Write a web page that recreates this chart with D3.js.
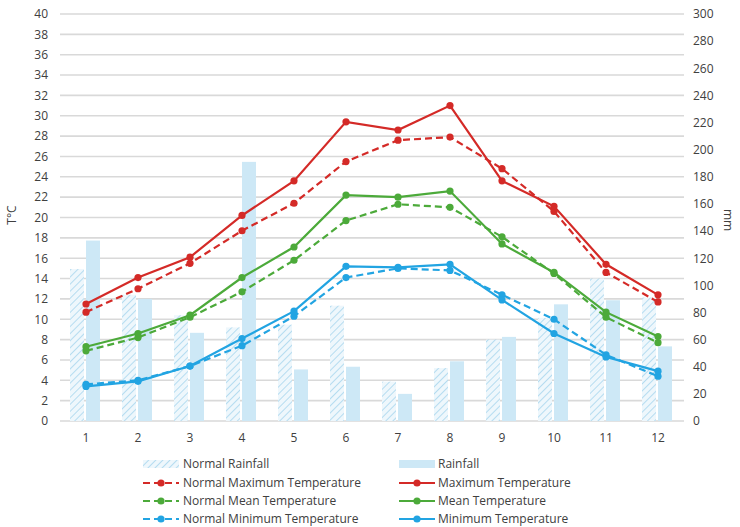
<!DOCTYPE html>
<html><head><meta charset="utf-8">
<script src="https://cdn.jsdelivr.net/npm/d3@7"></script>
<style>body{margin:0;background:#fff}svg{display:block}text{font-family:"Open Sans",sans-serif}</style>
</head><body><svg id="c" width="740" height="527"></svg>
<script>
const months = [1,2,3,4,5,6,7,8,9,10,11,12];
const normalRainfall = [112,93,78,69,71,85,29,39,60,76,105,91];
const rainfall = [133,90,65,191,38,40,20,44,62,86,89,55];
const normalMaxTemp = [10.7,13.0,15.5,18.7,21.4,25.5,27.6,27.9,24.8,20.6,14.6,11.7];
const maxTemp = [11.5,14.1,16.1,20.2,23.6,29.4,28.6,31.0,23.6,21.1,15.4,12.4];
const normalMeanTemp = [6.9,8.2,10.2,12.7,15.8,19.7,21.3,21.0,18.1,14.5,10.2,7.7];
const meanTemp = [7.3,8.6,10.4,14.1,17.1,22.2,22.0,22.6,17.4,14.6,10.7,8.3];
const normalMinTemp = [3.6,4.0,5.4,7.4,10.3,14.1,15.0,14.8,12.4,10.0,6.5,4.4];
const minTemp = [3.4,3.9,5.4,8.1,10.8,15.2,15.1,15.4,11.9,8.6,6.3,4.9];
const tempTicks = d3.range(0,41,2);
const mmTicks = d3.range(0,301,20);

const svg = d3.select("#c");
const L=60, R=684, T=14, B=421;
const x = d3.scaleBand().domain(months).range([L,R]).paddingInner(0).paddingOuter(0);
const yT = d3.scaleLinear().domain([0,40]).range([B,T]);
const yM = d3.scaleLinear().domain([0,300]).range([B,T]);

const defs = svg.append("defs");
const pat = defs.append("pattern").attr("id","hatch").attr("patternUnits","userSpaceOnUse")
  .attr("width",5).attr("height",5).attr("patternTransform","rotate(45)");
pat.append("rect").attr("width",5).attr("height",5).attr("fill","#eef7fc");
pat.append("line").attr("x1",0).attr("y1",0).attr("x2",0).attr("y2",5).attr("stroke","#b5dcf0").attr("stroke-width",2);

// grid
svg.append("g").selectAll("line").data(tempTicks).join("line")
  .attr("x1",L).attr("x2",R).attr("y1",d=>yT(d)).attr("y2",d=>yT(d))
  .attr("stroke","#d9d9d9").attr("stroke-width",1.6);

// left axis
const la = svg.append("g").attr("transform",`translate(${L},0)`).call(d3.axisLeft(yT).tickValues(tempTicks).tickSize(0).tickPadding(12));
la.select(".domain").remove();
la.selectAll("text").attr("fill","#404040").style("font-size","12px");
const ra = svg.append("g").attr("transform",`translate(${R},0)`).call(d3.axisRight(yM).tickValues(mmTicks).tickSize(0).tickPadding(9));
ra.select(".domain").remove();
ra.selectAll("text").attr("fill","#404040").style("font-size","12px");
const ba = svg.append("g").attr("transform",`translate(0,${B})`).call(d3.axisBottom(x).tickSize(0).tickPadding(12));
ba.select(".domain").remove();
ba.selectAll("text").attr("fill","#404040").style("font-size","12px");

svg.append("text").attr("transform","translate(16,215) rotate(-90)").attr("text-anchor","middle")
  .attr("fill","#404040").style("font-size","12px").text("T°C");
svg.append("text").attr("transform","translate(724,220) rotate(90)").attr("text-anchor","middle")
  .attr("fill","#404040").style("font-size","12px").text("mm");

// bars
const bw = 14, gap = 2;
const cx = m => x(m) + x.bandwidth()/2 - 1;
svg.append("g").selectAll("rect").data(months).join("rect")
  .attr("x",(m)=>cx(m)-gap/2-bw).attr("width",bw)
  .attr("y",(m,i)=>yM(normalRainfall[i])).attr("height",(m,i)=>B-yM(normalRainfall[i]))
  .attr("fill","url(#hatch)");
svg.append("g").selectAll("rect").data(months).join("rect")
  .attr("x",(m)=>cx(m)+gap/2).attr("width",bw)
  .attr("y",(m,i)=>yM(rainfall[i])).attr("height",(m,i)=>B-yM(rainfall[i]))
  .attr("fill","#cde8f6");

const px = m => x(m) + x.bandwidth()/2;
const series = [
  {name:"Normal Maximum Temperature", data:normalMaxTemp, color:"#d42a27", dash:true},
  {name:"Maximum Temperature", data:maxTemp, color:"#d42a27", dash:false},
  {name:"Normal Mean Temperature", data:normalMeanTemp, color:"#4caa3a", dash:true},
  {name:"Mean Temperature", data:meanTemp, color:"#4caa3a", dash:false},
  {name:"Normal Minimum Temperature", data:normalMinTemp, color:"#22a4e2", dash:true},
  {name:"Minimum Temperature", data:minTemp, color:"#22a4e2", dash:false}
];
const line = d3.line().x((d,i)=>px(months[i])).y(d=>yT(d));
series.forEach(s=>{
  const g = svg.append("g");
  g.append("path").attr("d",line(s.data)).attr("fill","none").attr("stroke",s.color)
    .attr("stroke-width",2.2).attr("stroke-dasharray",s.dash?"7,4":null);
  g.selectAll("circle").data(s.data).join("circle")
    .attr("cx",(d,i)=>px(months[i])).attr("cy",d=>yT(d)).attr("r",3.6).attr("fill",s.color);
});

// legend
const lg = svg.append("g");
const rowsY = [464,483,501,519];
const colX = [143,399];
function legText(xp,yp,t){lg.append("text").attr("x",xp).attr("y",yp+4).attr("fill","#404040").style("font-size","12px").text(t);}
lg.append("rect").attr("x",colX[0]).attr("y",rowsY[0]-4).attr("width",36).attr("height",8).attr("fill","url(#hatch)");
legText(colX[0]+40,rowsY[0],"Normal Rainfall");
lg.append("rect").attr("x",colX[1]).attr("y",rowsY[0]-4).attr("width",36).attr("height",8).attr("fill","#cde8f6");
legText(colX[1]+39,rowsY[0],"Rainfall");
series.forEach((s,i)=>{
  const c = i%2, r = 1+Math.floor(i/2);
  const x0 = colX[c], y0 = rowsY[r];
  lg.append("line").attr("x1",x0).attr("x2",x0+36).attr("y1",y0).attr("y2",y0)
    .attr("stroke",s.color).attr("stroke-width",2.2).attr("stroke-dasharray",s.dash?"7,4":null);
  lg.append("circle").attr("cx",x0+18).attr("cy",y0).attr("r",3.6).attr("fill",s.color);
  legText(x0+(c?39:40),y0,s.name);
});
</script></body></html>
